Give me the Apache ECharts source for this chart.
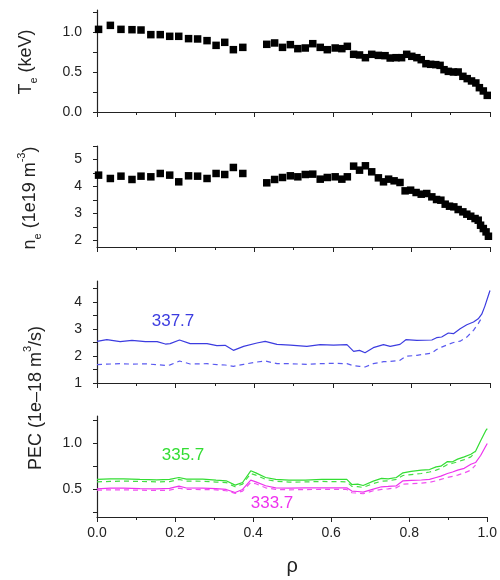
<!DOCTYPE html>
<html><head><meta charset="utf-8">
<script src="https://cdn.jsdelivr.net/npm/echarts@6/dist/echarts.min.js"></script>
<style>html,body{margin:0;padding:0;background:#fff}#c{width:500px;height:580px}</style>
</head><body><div id="c"></div>
<script>
// ---- Panel 1: electron temperature (keV)
const rhoTe = [0.004,0.034,0.061,0.089,0.112,0.137,0.161,0.185,0.208,0.233,0.256,0.280,0.303,0.325,0.347,0.371,0.432,0.452,0.472,0.492,0.511,0.530,0.549,0.568,0.586,0.606,0.623,0.637,0.653,0.668,0.683,0.699,0.716,0.733,0.746,0.761,0.775,0.788,0.801,0.814,0.825,0.837,0.849,0.862,0.873,0.883,0.894,0.907,0.919,0.931,0.942,0.953,0.964,0.973,0.983,0.993];
const teVal = [1.033,1.083,1.033,1.029,1.025,0.967,0.967,0.946,0.946,0.917,0.913,0.892,0.833,0.871,0.779,0.808,0.846,0.863,0.808,0.842,0.792,0.800,0.854,0.808,0.779,0.800,0.792,0.821,0.721,0.713,0.679,0.721,0.708,0.704,0.675,0.679,0.679,0.721,0.696,0.679,0.654,0.604,0.596,0.592,0.583,0.529,0.508,0.500,0.500,0.446,0.417,0.388,0.363,0.304,0.263,0.208];

// ---- Panel 2: electron density (1e19 m^-3)
const rhoNe = [0.004,0.034,0.061,0.089,0.112,0.137,0.161,0.185,0.208,0.233,0.256,0.280,0.303,0.325,0.347,0.371,0.432,0.452,0.472,0.492,0.511,0.530,0.549,0.568,0.586,0.606,0.623,0.637,0.653,0.668,0.683,0.699,0.716,0.729,0.742,0.756,0.771,0.784,0.798,0.812,0.825,0.839,0.852,0.864,0.875,0.886,0.897,0.908,0.919,0.931,0.941,0.951,0.962,0.970,0.976,0.983,0.990,0.996];
const neVal = [4.418,4.294,4.380,4.257,4.380,4.356,4.480,4.418,4.170,4.393,4.380,4.294,4.480,4.442,4.703,4.480,4.133,4.257,4.331,4.393,4.356,4.442,4.455,4.269,4.331,4.356,4.269,4.356,4.752,4.603,4.765,4.542,4.318,4.170,4.269,4.207,4.145,3.835,3.860,3.773,3.711,3.736,3.612,3.513,3.488,3.340,3.265,3.240,3.141,3.055,2.968,2.893,2.807,2.745,2.559,2.435,2.311,2.150];

// ---- Panel 3: PEC 337.7 (1e-18 m^3/s)
const rho337 = [0,0.025,0.059,0.089,0.123,0.153,0.174,0.186,0.210,0.237,0.280,0.305,0.326,0.347,0.373,0.407,0.428,0.458,0.492,0.534,0.568,0.602,0.636,0.653,0.668,0.682,0.703,0.729,0.746,0.771,0.786,0.814,0.852,0.864,0.877,0.894,0.907,0.924,0.941,0.958,0.970,0.979,0.987,0.996,1.0];
const pec337Solid = [2.543,2.605,2.531,2.580,2.531,2.531,2.444,2.457,2.593,2.457,2.457,2.383,2.395,2.210,2.358,2.481,2.543,2.432,2.407,2.358,2.420,2.407,2.420,2.173,2.210,2.123,2.309,2.420,2.358,2.432,2.605,2.580,2.593,2.679,2.704,2.852,2.827,3.012,3.160,3.259,3.38,3.55,3.85,4.25,4.43];
const pec337Dashed = [1.679,1.700,1.716,1.700,1.710,1.680,1.654,1.670,1.815,1.704,1.716,1.680,1.667,1.617,1.691,1.778,1.815,1.716,1.716,1.691,1.716,1.728,1.716,1.640,1.617,1.593,1.716,1.790,1.800,1.840,1.988,2.025,2.111,2.240,2.330,2.432,2.500,2.550,2.700,2.950,3.200,3.420];

// ---- Panel 4: PEC 335.7 and 333.7
const rho33x = [0,0.034,0.068,0.110,0.153,0.186,0.210,0.229,0.271,0.305,0.331,0.354,0.373,0.394,0.407,0.432,0.458,0.492,0.534,0.576,0.619,0.640,0.653,0.668,0.682,0.708,0.729,0.746,0.767,0.784,0.805,0.831,0.852,0.869,0.881,0.898,0.911,0.924,0.941,0.958,0.970,0.983,0.996,1.0];
const pec335Solid = [0.609,0.616,0.616,0.609,0.605,0.609,0.630,0.612,0.612,0.601,0.594,0.547,0.576,0.703,0.681,0.630,0.609,0.601,0.601,0.609,0.609,0.609,0.554,0.558,0.543,0.591,0.620,0.616,0.630,0.681,0.696,0.710,0.717,0.746,0.754,0.804,0.801,0.830,0.855,0.884,0.917,1.03,1.14,1.163];
const pec335Dashed = [0.583,0.587,0.591,0.587,0.583,0.585,0.609,0.591,0.589,0.580,0.575,0.529,0.558,0.674,0.656,0.609,0.590,0.580,0.582,0.587,0.585,0.583,0.533,0.530,0.522,0.565,0.590,0.594,0.609,0.652,0.662,0.674,0.690,0.710,0.730,0.772,0.785,0.801,0.825,0.855,0.905];
const pec333Solid = [0.507,0.514,0.514,0.510,0.507,0.512,0.536,0.516,0.514,0.510,0.500,0.467,0.500,0.601,0.583,0.540,0.518,0.514,0.518,0.518,0.518,0.518,0.482,0.478,0.471,0.504,0.529,0.533,0.540,0.594,0.598,0.603,0.609,0.630,0.645,0.674,0.690,0.710,0.730,0.775,0.793,0.87,0.97,1.0];
const pec333Dashed = [0.493,0.495,0.496,0.492,0.489,0.492,0.514,0.500,0.499,0.496,0.486,0.457,0.482,0.576,0.562,0.518,0.500,0.496,0.499,0.500,0.500,0.500,0.464,0.460,0.453,0.486,0.500,0.507,0.518,0.558,0.563,0.568,0.578,0.594,0.610,0.630,0.643,0.656,0.680,0.710,0.765];

// ---- Tick definitions
const xTickStep = 0.2;
const teTicks = [0,0.25,0.5,0.75,1.0,1.25];   const teLabels = [0,0.5,1.0];
const neTicks = [2,2.5,3,3.5,4,4.5,5,5.5];    const neLabels = [2,3,4,5];
const p1Ticks = [1,1.5,2,2.5,3,3.5,4,4.5];    const p1Labels = [1,2,3,4];
const p2Ticks = [0.25,0.5,0.75,1.0,1.25];     const p2Labels = [0.5,1.0];

const zip = (xs, ys) => ys.map((y, i) => [xs[i], y]);
const FONT = '"Liberation Sans", Arial, sans-serif';
const AX = '#222';

const grids = [
  {left: 97, right: 10, top: 10, height: 102},
  {left: 97, right: 10, top: 146, height: 101},
  {left: 97, right: 10, top: 281, height: 102},
  {left: 97, right: 10, top: 416, height: 101}
];

function mkX(i, showLabel) {
  return {
    type: 'value', gridIndex: i, min: 0, max: 1, interval: xTickStep,
    axisLine: {onZero: false, lineStyle: {color: AX, width: 1.2}},
    axisTick: {show: true, inside: false, length: 5, lineStyle: {color: AX, width: 1}},
    minorTick: {show: true, splitNumber: 2, length: 3, lineStyle: {color: AX, width: 1}},
    splitLine: {show: false}, minorSplitLine: {show: false},
    axisLabel: {show: showLabel, margin: 9, fontSize: 14, color: AX, fontFamily: FONT,
      formatter: v => v.toFixed(1)},
    name: showLabel ? 'ρ' : '', nameLocation: 'middle', nameGap: 39,
    nameTextStyle: {fontSize: 20, color: AX, fontFamily: FONT}
  };
}
function mkY(i, min, max, ticks, labels, dec) {
  return {
    type: 'value', gridIndex: i, min: min, max: max,
    axisLine: {show: true, onZero: false, lineStyle: {color: AX, width: 1.2}},
    axisTick: {show: true, inside: false, length: 4, customValues: ticks, lineStyle: {color: AX, width: 1}},
    splitLine: {show: false},
    axisLabel: {customValues: labels, margin: 15, fontSize: 14, color: AX, fontFamily: FONT,
      formatter: v => v.toFixed(dec)}
  };
}

const richName = {
  sub: {fontSize: 11, fontFamily: FONT, fill: AX, verticalAlign: 'bottom', lineHeight: 12},
  sup: {fontSize: 11, fontFamily: FONT, fill: AX, verticalAlign: 'top', lineHeight: 12}
};
function yName(text, x, y) {
  return {
    type: 'text', x: x, y: y, rotation: Math.PI / 2,
    style: {text: text, fontSize: 18, fontFamily: FONT, fill: AX, align: 'center',
      verticalAlign: 'middle', lineHeight: 27, rich: richName}
  };
}
function note(text, x, y, color) {
  return {type: 'text', x: x, y: y,
    style: {text: text, fontSize: 17, fontFamily: FONT, fill: color, align: 'center', verticalAlign: 'middle'}};
}

const BLUE = '#3c3ce0', BLUE_D = '#5a5af0';
const GREEN = '#33dd33', GREEN_D = '#44e044';
const MAG = '#ee33ee', MAG_D = '#f050f0';
function line(xi, data, color, dashed) {
  return {type: 'line', xAxisIndex: xi, yAxisIndex: xi, data: data, showSymbol: false, symbol: 'none',
    lineStyle: {color: color, width: 1.2, type: dashed ? [5, 4] : 'solid'}, z: dashed ? 2 : 3,
    animation: false, silent: true};
}

const chart = echarts.init(document.getElementById('c'), null, {renderer: 'canvas'});
chart.setOption({
  backgroundColor: '#fff',
  animation: false,
  grid: grids,
  xAxis: [mkX(0, false), mkX(1, false), mkX(2, false), mkX(3, true)],
  yAxis: [
    mkY(0, 0, 1.275, teTicks, teLabels, 1),
    mkY(1, 1.75, 5.5, neTicks, neLabels, 0),
    mkY(2, 1, 4.78, p1Ticks, p1Labels, 0),
    mkY(3, 0.2, 1.3, p2Ticks, p2Labels, 1)
  ],
  series: [
    {type: 'scatter', xAxisIndex: 0, yAxisIndex: 0, data: zip(rhoTe, teVal), symbol: 'rect', symbolSize: 7.5,
      itemStyle: {color: '#000', opacity: 1}, animation: false},
    {type: 'scatter', xAxisIndex: 1, yAxisIndex: 1, data: zip(rhoNe, neVal), symbol: 'rect', symbolSize: 7.5,
      itemStyle: {color: '#000', opacity: 1}, animation: false},
    line(2, zip(rho337, pec337Dashed), BLUE_D, true),
    line(2, zip(rho337, pec337Solid), BLUE, false),
    line(3, zip(rho33x, pec335Dashed), GREEN_D, true),
    line(3, zip(rho33x, pec335Solid), GREEN, false),
    line(3, zip(rho33x, pec333Dashed), MAG_D, true),
    line(3, zip(rho33x, pec333Solid), MAG, false)
  ],
  graphic: [
    yName('T{sub|e} (keV)', 26, 62),
    yName('n{sub|e} (1e19 m{sup|-3})', 30, 198),
    yName('PEC (1e\u201318 m{sup|3}/s)', 36, 398),
    note('337.7', 173, 321, BLUE),
    note('335.7', 183, 455, GREEN),
    note('333.7', 272, 503, MAG)
  ]
});
</script>
</body></html>
